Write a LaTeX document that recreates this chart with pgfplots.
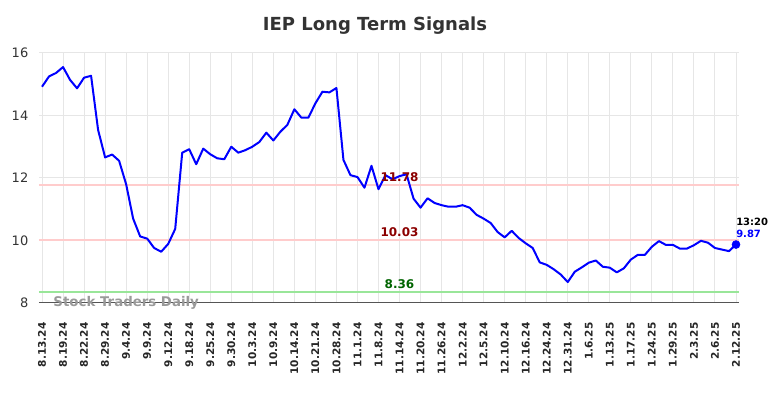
\documentclass[border=0pt]{standalone}
\usepackage{pgfplots}
\pgfplotsset{compat=1.18}
\usepackage{fontspec}
\setmainfont{DejaVu Sans}
\definecolor{titlegray}{HTML}{333333}
\definecolor{gridgray}{HTML}{E6E6E6}
\definecolor{axisgray}{HTML}{555555}
\definecolor{lpink}{HTML}{FFCCCC}
\definecolor{lgreen}{HTML}{99E699}
\definecolor{dred}{HTML}{8B0000}
\definecolor{dgreen}{HTML}{006400}
\definecolor{wmgray}{HTML}{999999}

\pgfplotstableread{
i v
0 14.92
1 15.25
2 15.36
3 15.55
4 15.14
5 14.87
6 15.21
7 15.27
8 13.54
9 12.66
10 12.75
11 12.55
12 11.80
13 10.70
14 10.13
15 10.06
16 9.76
17 9.64
18 9.89
19 10.37
20 12.81
21 12.92
22 12.44
23 12.94
24 12.76
25 12.63
26 12.60
27 13.00
28 12.81
29 12.89
30 13.00
31 13.15
32 13.45
33 13.20
34 13.48
35 13.70
36 14.20
37 13.93
38 13.93
39 14.39
40 14.76
41 14.74
42 14.88
43 12.58
44 12.09
45 12.03
46 11.69
47 12.39
48 11.64
49 12.09
50 11.96
51 12.06
52 12.12
53 11.34
54 11.05
55 11.35
56 11.20
57 11.13
58 11.08
59 11.08
60 11.13
61 11.05
62 10.82
63 10.70
64 10.56
65 10.27
66 10.10
67 10.31
68 10.08
69 9.91
70 9.76
71 9.30
72 9.22
73 9.08
74 8.91
75 8.67
76 9.00
77 9.14
78 9.29
79 9.36
80 9.16
81 9.13
82 8.98
83 9.11
84 9.39
85 9.54
86 9.54
87 9.80
88 9.98
89 9.86
90 9.86
91 9.74
92 9.74
93 9.85
94 9.99
95 9.93
96 9.76
97 9.71
98 9.66
99 9.87
}\data

\begin{document}
\begin{tikzpicture}[x=1pt,y=1pt]
\path[use as bounding box] (-29.25,-71.25) rectangle (558.75,227.25);
\begin{axis}[
  at={(0,0)}, anchor=south west,
  scale only axis, width=525pt, height=187.5pt,
  xmin=-0.43, xmax=99.43, ymin=8, ymax=16,
  axis lines*=left,
  x axis line style={color=axisgray, line width=0.75pt},
  y axis line style={draw=none},
  major tick length=0pt,
  grid=major,
  grid style={color=gridgray, line width=0.75pt},
  xtick={0,3,...,99},
  xticklabels={8.13.24,8.19.24,8.22.24,8.29.24,9.4.24,9.9.24,9.12.24,9.18.24,9.25.24,9.30.24,10.3.24,10.9.24,10.14.24,10.21.24,10.28.24,11.1.24,11.8.24,11.14.24,11.20.24,11.26.24,12.2.24,12.5.24,12.10.24,12.16.24,12.24.24,12.31.24,1.6.25,1.13.25,1.17.25,1.24.25,1.29.25,2.3.25,2.6.25,2.12.25},
  xticklabel shift=11pt,
  x tick label style={rotate=90, anchor=east, font=\bfseries\fontsize{7.9}{9}\selectfont, text=black!85},
  ytick={8,10,12,14,16},
  y tick label style={font=\fontsize{9.75}{11}\selectfont, text=titlegray, xshift=-4.5pt},
  /pgf/number format/assume math mode=true,
  clip=false,
]
\addplot[draw=lpink, line width=1.5pt] coordinates {(-0.43,11.78) (99.43,11.78)};
\addplot[draw=lpink, line width=1.5pt] coordinates {(-0.43,10.03) (99.43,10.03)};
\addplot[draw=lgreen, line width=1.5pt] coordinates {(-0.43,8.36) (99.43,8.36)};
\addplot[draw=blue, line width=1.5pt, line join=round] table[x=i,y=v] {\data};
\addplot[only marks, mark=*, mark size=3pt, color=blue] coordinates {(99,9.87)};
\node[anchor=base, font=\bfseries\fontsize{9}{10}\selectfont, text=dred, inner sep=0pt] at (axis cs:51,11.78) [yshift=2.2pt] {11.78};
\node[anchor=base, font=\bfseries\fontsize{9}{10}\selectfont, text=dred, inner sep=0pt] at (axis cs:51,10.03) [yshift=2.2pt] {10.03};
\node[anchor=base, font=\bfseries\fontsize{9}{10}\selectfont, text=dgreen, inner sep=0pt] at (axis cs:51,8.36) [yshift=2.8pt] {8.36};
\node[anchor=base west, font=\bfseries\fontsize{7.5}{9}\selectfont, text=black, inner sep=0pt] at (axis cs:99,9.87) [yshift=14.25pt] {13:20};
\node[anchor=base west, font=\bfseries\fontsize{7.5}{9}\selectfont, text=blue, inner sep=0pt] at (axis cs:99,9.87) [yshift=5.25pt] {9.87};
\node[anchor=west, font=\bfseries\fontsize{10}{11}\selectfont, text=wmgray, inner sep=0pt] at (axis cs:1.6,8) {Stock Traders Daily};
\end{axis}
\node[font=\bfseries\fontsize{13.5}{15}\selectfont, text=titlegray] at (252,207.75) {IEP Long Term Signals};
\end{tikzpicture}
\end{document}
